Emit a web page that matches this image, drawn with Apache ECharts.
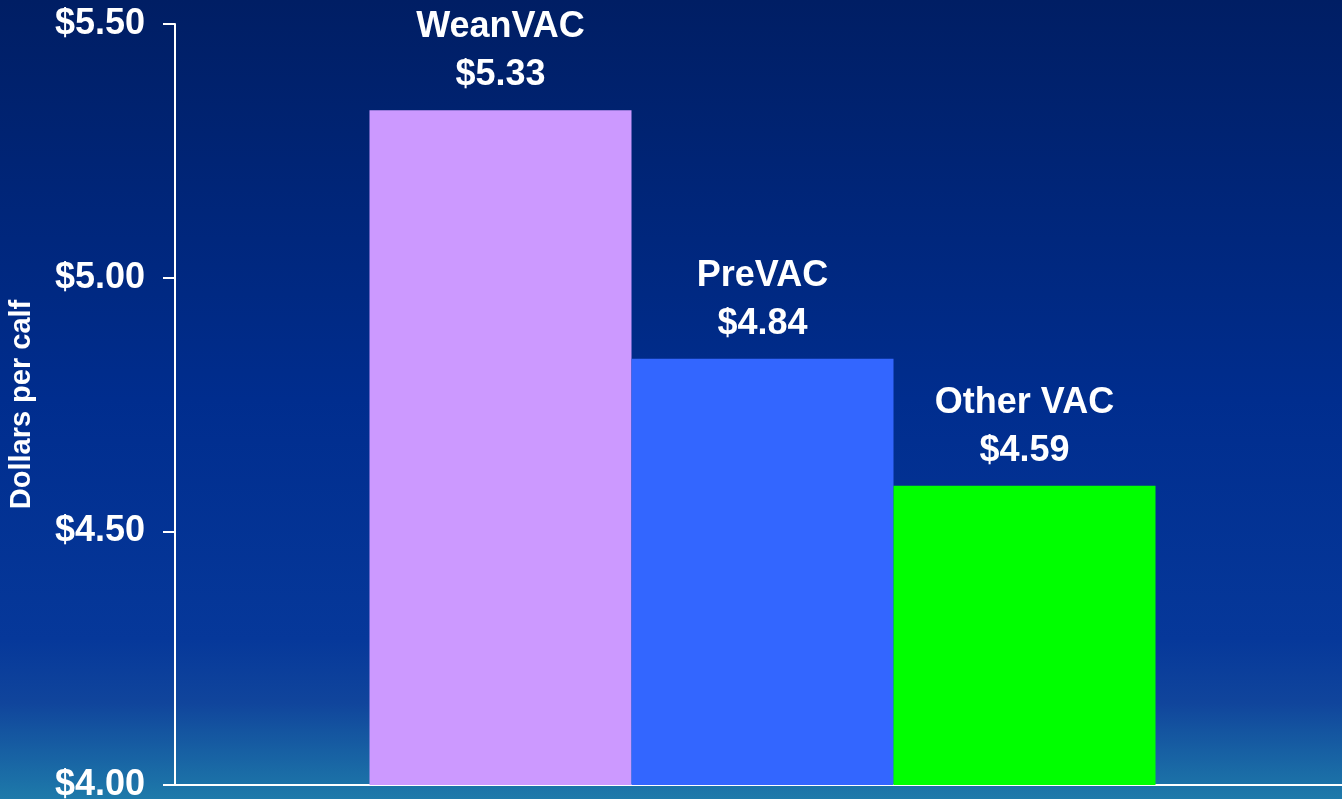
<html>
<head>
    <meta charset="utf-8">
    <title>Dollars per calf</title>
    <script src="https://cdn.jsdelivr.net/npm/echarts@6/dist/echarts.min.js"></script>
    <style>
        html, body { margin: 0; padding: 0; }
        #main { width: 1342px; height: 799px; }
    </style>
</head>
<body>
<div id="main"></div>
<script>
    // data
    var programs = ['WeanVAC', 'PreVAC', 'Other VAC'];
    var values = [5.33, 4.84, 4.59];
    var barColors = ['#cc99ff', '#3366ff', '#00ff00'];
    var yTicks = [4.0, 4.5, 5.0, 5.5];

    var series = [];
    for (var i = 0; i < programs.length; i++) {
        series.push({
            name: programs[i],
            type: 'bar',
            data: [values[i]],
            barWidth: 262,
            barGap: '0%',
            itemStyle: { color: barColors[i] },
            label: {
                show: true,
                position: 'top',
                distance: 11,
                color: '#fff',
                fontFamily: 'Liberation Sans, Arial',
                fontWeight: 'bold',
                fontSize: 36,
                lineHeight: 48,
                formatter: function (p) {
                    return p.seriesName + '\n$' + p.value.toFixed(2);
                }
            }
        });
    }

    var chart = echarts.init(document.getElementById('main'));
    chart.setOption({
        animation: false,
        backgroundColor: new echarts.graphic.LinearGradient(0, 0, 0, 1, [
            { offset: 0, color: '#001e64' },
            { offset: 0.5, color: '#002d8e' },
            { offset: 0.8, color: '#06389a' },
            { offset: 0.88, color: '#10459c' },
            { offset: 1, color: '#1e7aaa' }
        ]),
        grid: { left: 175, right: -8, top: 24, bottom: 14, outerBoundsMode: 'none', containLabel: false },
        xAxis: {
            type: 'category',
            data: [''],
            axisLine: { lineStyle: { color: '#fff', width: 2 } },
            axisTick: { show: false },
            axisLabel: { show: false }
        },
        yAxis: {
            type: 'value',
            min: yTicks[0],
            max: yTicks[yTicks.length - 1],
            interval: 0.5,
            name: 'Dollars per calf',
            nameLocation: 'middle',
            nameGap: 139,
            nameTextStyle: {
                color: '#fff',
                fontFamily: 'Liberation Sans, Arial',
                fontWeight: 'bold',
                fontSize: 29
            },
            splitLine: { show: false },
            axisLine: { show: true, lineStyle: { color: '#fff', width: 2 } },
            axisTick: { show: true, length: 12, lineStyle: { color: '#fff', width: 2 } },
            axisLabel: {
                color: '#fff',
                margin: 30,
                fontFamily: 'Liberation Sans, Arial',
                fontWeight: 'bold',
                fontSize: 36,
                formatter: function (v) { return '$' + v.toFixed(2); }
            }
        },
        series: series
    });
</script>
</body>
</html>
